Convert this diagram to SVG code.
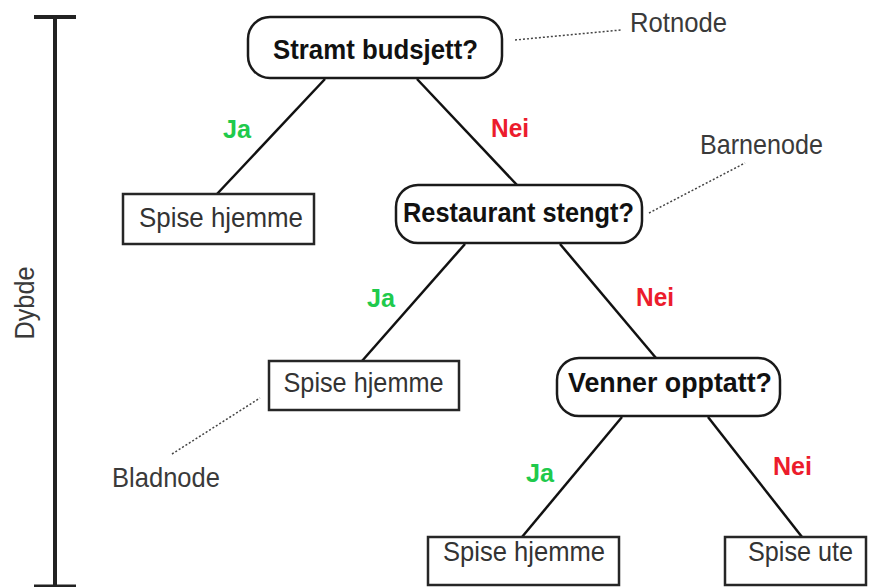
<svg xmlns="http://www.w3.org/2000/svg" width="873" height="587" viewBox="0 0 873 587">
<style>
.dec rect{fill:#fff;stroke:#1a1a1a;stroke-width:2.5}
.leaf rect{fill:#fff;stroke:#262626;stroke-width:2.5}
.dec text{font-family:"Liberation Sans",Arial,sans-serif;font-weight:bold;font-size:28.5px;fill:#111;text-anchor:middle}
.leaf text{font-family:"Liberation Sans",Arial,sans-serif;font-size:28px;fill:#333;text-anchor:middle}
.edge{stroke:#111;stroke-width:2.5;fill:none}
.ja{font-family:"Liberation Sans",Arial,sans-serif;font-weight:bold;font-size:26px;fill:#1fca4c}
.nei{font-family:"Liberation Sans",Arial,sans-serif;font-weight:bold;font-size:26px;fill:#ec1c2c}
.ann{font-family:"Liberation Sans",Arial,sans-serif;font-size:28px;fill:#3a3a3a}
.dot{stroke:#444;stroke-width:1.5;stroke-dasharray:2 2;fill:none}
</style>
<g id="depth">
<line x1="55" y1="17" x2="55" y2="587" stroke="#222" stroke-width="4"/>
<line x1="34" y1="17" x2="76" y2="17" stroke="#222" stroke-width="4"/>
<line x1="34" y1="586" x2="76" y2="586" stroke="#222" stroke-width="3"/>
<text class="ann" transform="translate(34,303) rotate(-90)" text-anchor="middle" textLength="73" lengthAdjust="spacingAndGlyphs">Dybde</text>
</g>
<g id="connectors">
<line class="edge" x1="325" y1="79" x2="217" y2="194"/>
<line class="edge" x1="417" y1="79" x2="517" y2="185"/>
<line class="edge" x1="465" y1="244" x2="362" y2="361"/>
<line class="edge" x1="560" y1="244" x2="656" y2="358"/>
<line class="edge" x1="622" y1="417" x2="522" y2="537"/>
<line class="edge" x1="708" y1="417" x2="802" y2="537"/>
<text class="ja" x="223" y="138" textLength="28" lengthAdjust="spacingAndGlyphs">Ja</text>
<text class="nei" x="491" y="137" textLength="38" lengthAdjust="spacingAndGlyphs">Nei</text>
<text class="ja" x="367" y="307" textLength="28" lengthAdjust="spacingAndGlyphs">Ja</text>
<text class="nei" x="636" y="306" textLength="38" lengthAdjust="spacingAndGlyphs">Nei</text>
<text class="ja" x="526" y="482" textLength="28" lengthAdjust="spacingAndGlyphs">Ja</text>
<text class="nei" x="773" y="475" textLength="39" lengthAdjust="spacingAndGlyphs">Nei</text>
</g>
<g id="root" class="dec">
<rect x="248" y="17" width="254" height="61" rx="22"/>
<text x="375.5" y="59" textLength="205" lengthAdjust="spacingAndGlyphs">Stramt budsjett?</text>
</g>
<g id="restaurant" class="dec">
<rect x="396" y="185" width="246" height="58" rx="22"/>
<text x="518.5" y="222" textLength="231" lengthAdjust="spacingAndGlyphs">Restaurant stengt?</text>
</g>
<g id="venner" class="dec">
<rect x="557" y="358" width="223" height="58" rx="22"/>
<text x="670" y="392" textLength="204" lengthAdjust="spacingAndGlyphs">Venner opptatt?</text>
</g>
<g id="leaf1" class="leaf">
<rect x="123" y="194" width="191" height="50"/>
<text x="221" y="227" textLength="164" lengthAdjust="spacingAndGlyphs">Spise hjemme</text>
</g>
<g id="leaf2" class="leaf">
<rect x="269" y="361" width="190" height="49"/>
<text x="363.5" y="392" textLength="160" lengthAdjust="spacingAndGlyphs">Spise hjemme</text>
</g>
<g id="leaf3" class="leaf">
<rect x="428" y="537" width="191" height="48"/>
<text x="524" y="561" textLength="162" lengthAdjust="spacingAndGlyphs">Spise hjemme</text>
</g>
<g id="leaf4" class="leaf">
<rect x="725" y="537" width="141" height="48"/>
<text x="800.5" y="561" textLength="105" lengthAdjust="spacingAndGlyphs">Spise ute</text>
</g>
<g id="annotations">
<line class="dot" x1="515" y1="40" x2="621" y2="30"/>
<text class="ann" x="630" y="32" textLength="97" lengthAdjust="spacingAndGlyphs">Rotnode</text>
<line class="dot" x1="649" y1="213" x2="745" y2="163"/>
<text class="ann" x="700" y="154" textLength="123" lengthAdjust="spacingAndGlyphs">Barnenode</text>
<line class="dot" x1="172" y1="454" x2="260" y2="398"/>
<text class="ann" x="112" y="487" textLength="108" lengthAdjust="spacingAndGlyphs">Bladnode</text>
</g>
</svg>
